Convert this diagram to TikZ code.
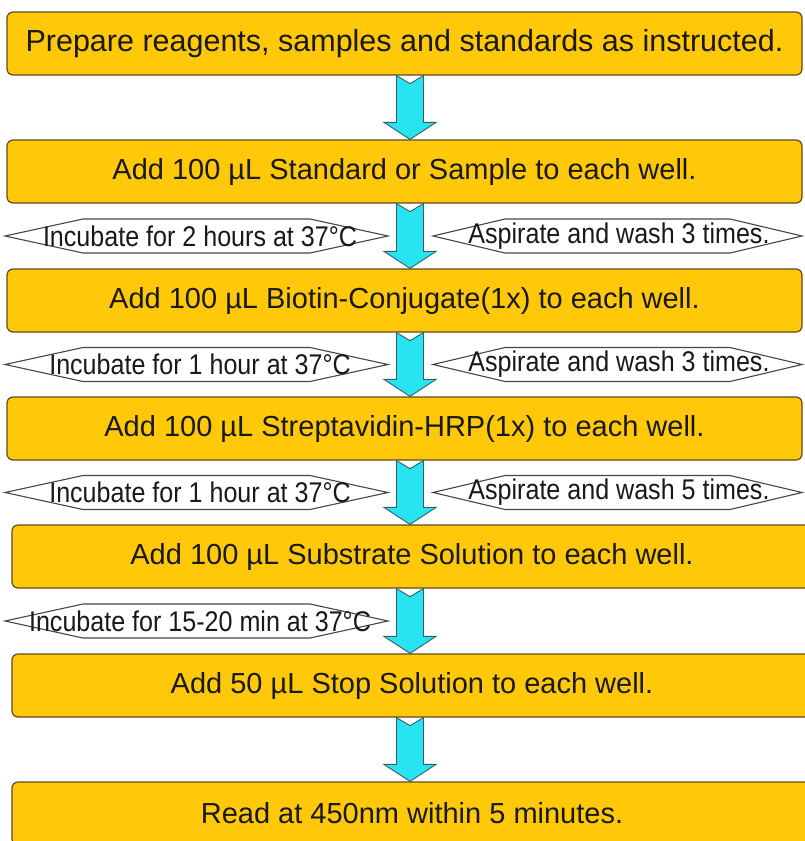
\documentclass[tikz,border=0pt]{standalone}
\usepackage{fontspec}
\setmainfont{Liberation Sans}
\newfontfamily\narrowsans[FakeStretch=0.88]{Liberation Sans}
\usetikzlibrary{positioning, calc}
\definecolor{boxgold}{RGB}{255,200,8}
\definecolor{boxedge}{RGB}{95,75,35}
\definecolor{flowcyan}{RGB}{40,228,240}
\definecolor{flowedge}{RGB}{60,90,110}
\definecolor{hexedge}{RGB}{70,70,70}

\begin{document}
\begin{tikzpicture}[x=1pt, y=-1pt,
    stepbox/.style={draw=boxedge, line width=1.2pt, fill=boxgold, rounded corners=6pt,
        minimum height=63pt, inner sep=0pt, font=\fontsize{29}{32}\selectfont, text=black!90},
    hexline/.style={draw=hexedge, line width=1.1pt, fill=white},
    hexlabel/.style={inner sep=0pt, font=\narrowsans\fontsize{28.5}{30}\selectfont, text=black!90},
    flowarrow/.style={draw=flowedge, line width=0.9pt, fill=flowcyan, line join=miter}]
        \useasboundingbox (0,0) rectangle (805,841);

        % steps
        \node[stepbox, minimum width=795pt, font=\fontsize{30.5}{33}\selectfont] (b1) at (404.5,43.5) {Prepare reagents, samples and standards as instructed.};
        \node[stepbox, minimum width=795pt] (b2) at (404.5,171.5) {Add 100 µL Standard or Sample to each well.};
        \node[stepbox, minimum width=795pt] (b3) at (404.5,300.5) {Add 100 µL Biotin-Conjugate(1x) to each well.};
        \node[stepbox, minimum width=795pt] (b4) at (404.5,428.5) {Add 100 µL Streptavidin-HRP(1x) to each well.};
        \node[stepbox, minimum width=800pt] (b5) at (412,556.5) {Add 100 µL Substrate Solution to each well.};
        \node[stepbox, minimum width=800pt] (b6) at (412,685.5) {Add 50 µL Stop Solution to each well.};
        \node[stepbox, minimum width=800pt] (b7) at (412,813.5) {Read at 450nm within 5 minutes.};

        % block arrows between the steps
        \foreach \a/\b in {b1/b2, b2/b3, b3/b4, b4/b5, b5/b6, b6/b7}
            \draw[flowarrow] let \p1 = ([xshift=5.5pt]b1.south |- \a.south), \p2 = (b1.south |- \b.north) in
                (\x1-13.5pt,\y1) -- (\x1,\y1-8pt) -- (\x1+13.5pt,\y1) -- (\x1+13.5pt,\y2+17pt)
                -- (\x1+26pt,\y2+17pt) -- (\x1,\y2) -- (\x1-26pt,\y2+17pt) -- (\x1-13.5pt,\y2+17pt) -- cycle;

        % incubation notes (left)
        \foreach \y/\txt [count=\i] in {236/{Incubate for 2 hours at 37°C}, 364.5/{Incubate for 1 hour at 37°C},
                                      492.5/{Incubate for 1 hour at 37°C}, 621/{Incubate for 15-20 min at 37°C}} {
            \draw[hexline] (5,\y) -- ++(78,-17) -- ++(227,0) -- ++(78,17) -- ++(-78,17) -- ++(-227,0) -- cycle;
            \node[hexlabel] (inc\i) at (200,\y) {\txt};
        }

        % wash notes (right)
        \foreach \y/\n [count=\i] in {236/3, 364.5/3, 492.5/5} {
            \draw[hexline] (433,\y) -- ++(72,-17) -- ++(225,0) -- ++(72,17) -- ++(-72,17) -- ++(-225,0) -- cycle;
            \node[hexlabel] (wash\i) at (619,\y) {Aspirate and wash \n\ times.};
        }
    \end{tikzpicture}
\end{document}
